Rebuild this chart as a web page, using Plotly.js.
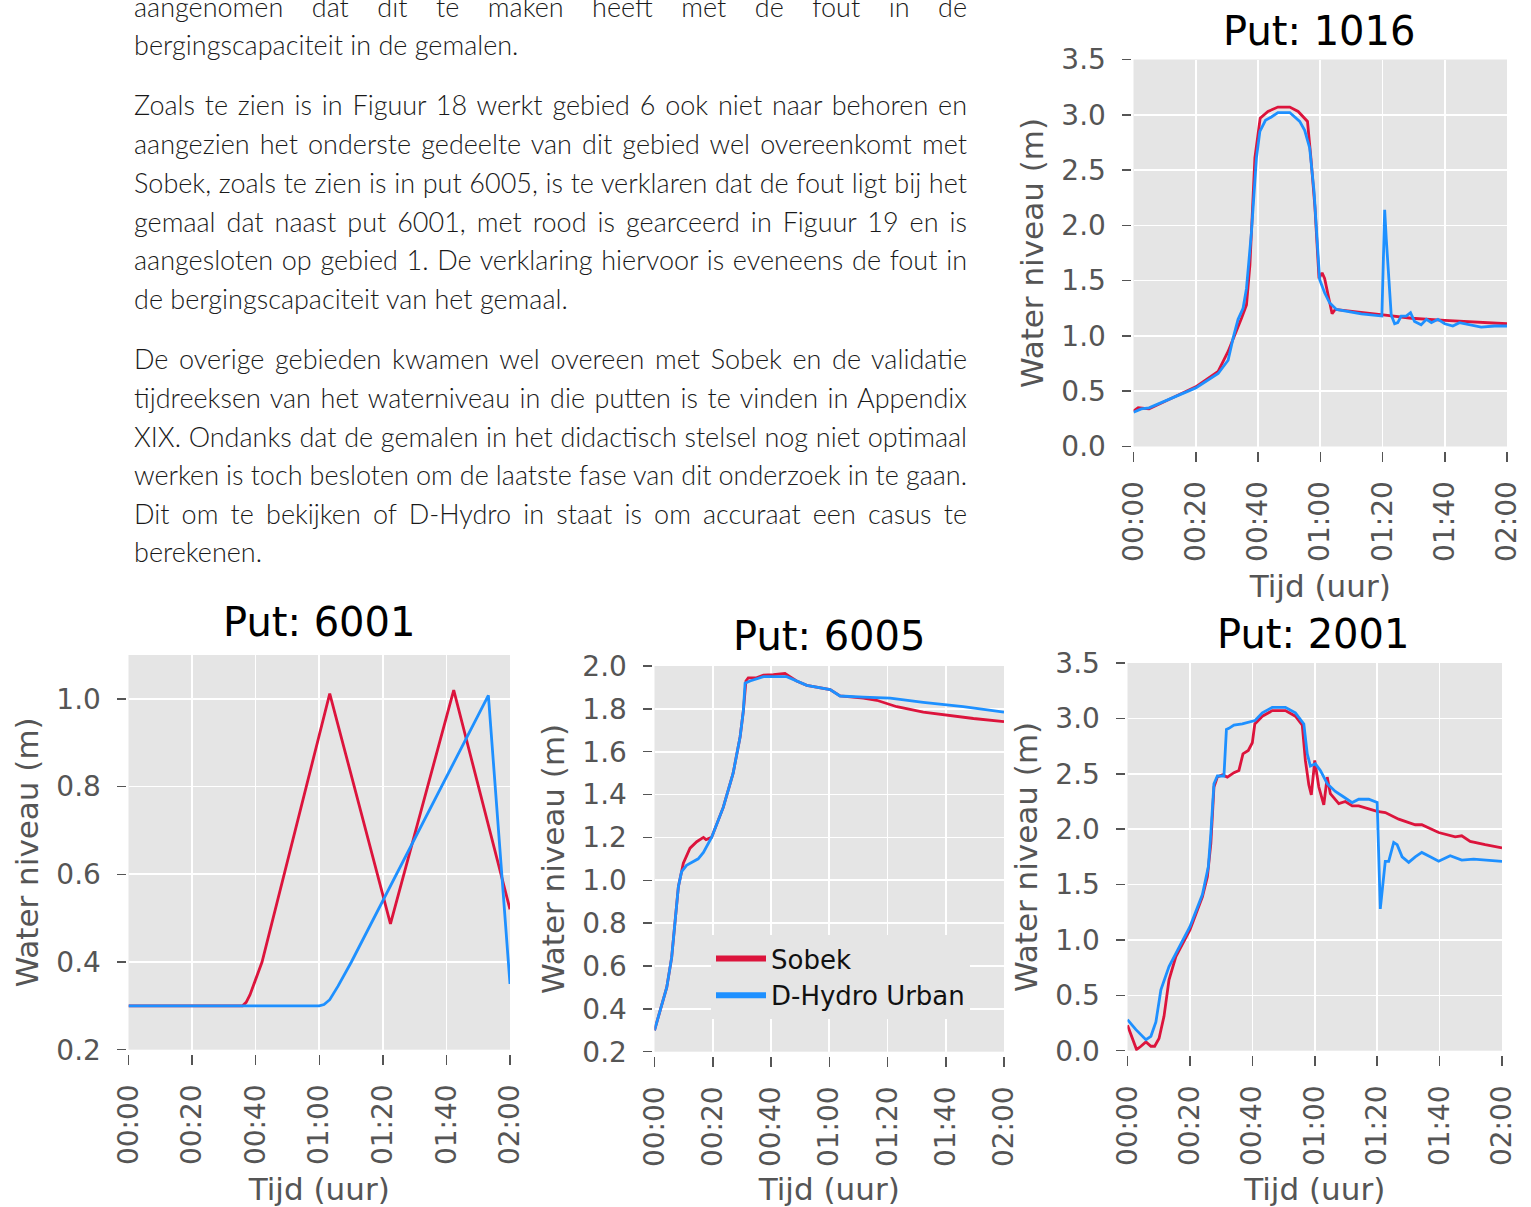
<!DOCTYPE html>
<html>
<head>
<meta charset="utf-8">
<script src="https://cdn.plot.ly/plotly-3.0.1.min.js"></script>
<style>
  html, body { margin: 0; padding: 0; background: #ffffff; }
  #wrap { position: relative; width: 1531px; height: 1207px; overflow: hidden; background: #fff; }
  #chart { position: absolute; left: 0; top: 0; width: 1531px; height: 1207px; }
  #text { position: absolute; left: 134px; top: 0; width: 833px; height: 580px;
          font-family: Lato, 'Open Sans', 'Noto Sans', sans-serif; font-weight: 300;
          font-size: 27px; color: #1a1a1a; }
  .ln { position: absolute; left: 0; height: 38.7px; line-height: 38.7px;
        white-space: nowrap; text-align: left; }
</style>
</head>
<body>
<div id="wrap">
  <div id="chart"></div>
  <div id="text"></div>
</div>
<script>
// ---------------- DATA ----------------
const timeTickVals = [0, 20, 40, 60, 80, 100, 120];
const timeTickText = ['00:00', '00:20', '00:40', '01:00', '01:20', '01:40', '02:00'];
const seriesNames = ['Sobek', 'D-Hydro Urban'];

// Put 1016
const t1016Sobek = [0, 1.5, 5, 20, 27.2, 30.4, 34.7, 36.3, 37.4, 39, 40.7, 43.2, 46.4, 50.2, 52.9, 55.9, 57, 58.3, 59.6, 60.6, 61.4, 62.5, 63.8, 64.8, 73.2, 80.2, 89.3, 100, 120];
const h1016Sobek = [0.32, 0.35, 0.34, 0.54, 0.68, 0.86, 1.16, 1.28, 1.64, 2.61, 2.97, 3.03, 3.07, 3.07, 3.03, 2.94, 2.61, 2.16, 1.52, 1.57, 1.52, 1.37, 1.20, 1.24, 1.21, 1.19, 1.16, 1.14, 1.11];
const t1016DHydro = [0, 2.5, 5, 20, 27.2, 30.4, 32, 33.6, 35.2, 36.3, 37.9, 39.5, 40.6, 42.4, 44.3, 46.4, 50.2, 53.4, 55, 56.6, 58, 59.3, 59.8, 61.4, 63, 65.2, 73.2, 79.8, 80.7, 81.2, 82.8, 83.9, 84.9, 86, 87.6, 89, 90.3, 92.4, 94.1, 95.7, 97.8, 100, 102.6, 104.7, 108.5, 111.7, 116, 120];
const h1016DHydro = [0.31, 0.34, 0.35, 0.53, 0.66, 0.78, 0.98, 1.15, 1.25, 1.43, 1.94, 2.61, 2.85, 2.95, 2.98, 3.02, 3.02, 2.94, 2.86, 2.70, 2.31, 1.70, 1.51, 1.39, 1.30, 1.24, 1.20, 1.18, 2.14, 1.88, 1.19, 1.11, 1.12, 1.18, 1.18, 1.21, 1.13, 1.10, 1.15, 1.12, 1.15, 1.11, 1.09, 1.12, 1.10, 1.08, 1.09, 1.09];

// Put 6001
const t6001Sobek = [0, 35.9, 37, 38.2, 42, 63.3, 82.4, 102.3, 120];
const h6001Sobek = [0.3, 0.3, 0.308, 0.325, 0.40, 1.012, 0.487, 1.02, 0.52];
const t6001DHydro = [0, 60, 61.5, 63.3, 65.9, 70.1, 113.2, 120];
const h6001DHydro = [0.3, 0.3, 0.303, 0.314, 0.345, 0.40, 1.008, 0.35];

// Put 6005
const t6005Sobek = [0, 4.2, 5.9, 7.6, 8.2, 9.9, 12.2, 14.5, 16.8, 17.7, 19.1, 19.6, 23.6, 27, 29.4, 30.5, 31.4, 32.2, 35, 37.4, 40.8, 44.8, 46.5, 48.8, 52.3, 60.3, 63.7, 71.7, 76.3, 83.2, 92.3, 100.3, 109.5, 120];
const h6005Sobek = [0.3, 0.50, 0.64, 0.907, 0.97, 1.08, 1.15, 1.18, 1.20, 1.19, 1.20, 1.20, 1.34, 1.50, 1.67, 1.79, 1.93, 1.945, 1.945, 1.957, 1.96, 1.965, 1.95, 1.93, 1.91, 1.89, 1.86, 1.85, 1.84, 1.81, 1.785, 1.77, 1.755, 1.74];
const t6005DHydro = [0, 4.2, 5.9, 7.6, 8.2, 9.3, 11, 15, 16.8, 19.6, 23.6, 27, 29.4, 30.5, 31.1, 32.8, 37.4, 45.4, 48.8, 52.3, 60.3, 63.7, 71.7, 80.9, 92.3, 106, 120];
const h6005DHydro = [0.3, 0.50, 0.64, 0.907, 0.97, 1.04, 1.07, 1.10, 1.13, 1.20, 1.34, 1.50, 1.67, 1.79, 1.92, 1.93, 1.95, 1.95, 1.93, 1.91, 1.89, 1.86, 1.855, 1.85, 1.83, 1.81, 1.785];

// Put 2001
const t2001Sobek = [0, 1.6, 2.9, 4.3, 5.9, 7.5, 8.7, 10.1, 11.7, 13.3, 15.5, 20, 24, 25.6, 26.7, 27.7, 28.8, 30.4, 32, 34.1, 35.7, 37, 38.7, 40, 40.8, 43.2, 46.4, 50.6, 53.8, 56, 57, 58.1, 58.9, 60, 61.3, 62.9, 64, 65, 67.7, 69.8, 72, 74.1, 80, 82.6, 86.9, 92.2, 94.3, 99.7, 105, 107.1, 109.8, 114.6, 120];
const h2001Sobek = [0.23, 0.10, 0.01, 0.04, 0.08, 0.04, 0.04, 0.11, 0.31, 0.64, 0.85, 1.09, 1.39, 1.57, 1.87, 2.38, 2.47, 2.49, 2.47, 2.51, 2.53, 2.68, 2.71, 2.78, 2.95, 3.02, 3.07, 3.07, 3.02, 2.94, 2.62, 2.40, 2.31, 2.62, 2.38, 2.22, 2.47, 2.32, 2.23, 2.25, 2.21, 2.21, 2.16, 2.15, 2.09, 2.04, 2.04, 1.97, 1.93, 1.94, 1.89, 1.86, 1.83];
const t2001DHydro = [0, 2.7, 5.9, 7.5, 9.1, 10.7, 13.3, 20, 24, 25.9, 26.7, 27.7, 28.8, 30.9, 31.7, 32.5, 34.1, 36.8, 40.8, 43.2, 46.4, 50.6, 53.8, 56.5, 57.6, 58.6, 60.2, 61.8, 64, 66.6, 69.3, 72, 74.1, 77.3, 80, 81, 82.6, 83.7, 85.3, 86.4, 88, 90.1, 92.2, 94.3, 97, 99.7, 103.4, 107.1, 110.9, 114.6, 120];
const h2001DHydro = [0.28, 0.19, 0.10, 0.13, 0.26, 0.55, 0.76, 1.12, 1.41, 1.66, 1.96, 2.41, 2.48, 2.48, 2.90, 2.91, 2.94, 2.95, 2.98, 3.05, 3.10, 3.10, 3.05, 2.95, 2.68, 2.57, 2.59, 2.53, 2.41, 2.34, 2.29, 2.24, 2.27, 2.27, 2.24, 1.28, 1.71, 1.71, 1.88, 1.86, 1.75, 1.70, 1.75, 1.79, 1.75, 1.71, 1.76, 1.72, 1.73, 1.72, 1.71];

// Body text (document page), per line; second value: last line of a paragraph (not justified)
const textLines = [
  ['aangenomen dat dit te maken heeft met de fout in de', false],
  ['bergingscapaciteit in de gemalen.', true],
  ['Zoals te zien is in Figuur 18 werkt gebied 6 ook niet naar behoren en', false],
  ['aangezien het onderste gedeelte van dit gebied wel overeenkomt met', false],
  ['Sobek, zoals te zien is in put 6005, is te verklaren dat de fout ligt bij het', false],
  ['gemaal dat naast put 6001, met rood is gearceerd in Figuur 19 en is', false],
  ['aangesloten op gebied 1. De verklaring hiervoor is eveneens de fout in', false],
  ['de bergingscapaciteit van het gemaal.', true],
  ['De overige gebieden kwamen wel overeen met Sobek en de validatie', false],
  ['tijdreeksen van het waterniveau in die putten is te vinden in Appendix', false],
  ['XIX. Ondanks dat de gemalen in het didactisch stelsel nog niet optimaal', false],
  ['werken is toch besloten om de laatste fase van dit onderzoek in te gaan.', false],
  ['Dit om te bekijken of D-Hydro in staat is om accuraat een casus te', false],
  ['berekenen.', true]
];

// ---------------- LAYOUT CONSTANTS ----------------
const W = 1531, H = 1207;
const TEXT_W = 833;
const lineCenters = [7.5, 46, 106, 145, 184, 222.5, 261, 300, 360, 399, 437.5, 476, 514.5, 553];
const RED = '#DC143C', BLUE = '#1E90FF';
const panels = [
  { n: '',  left: 1133.5, right: 1507, top: 59.5, bottom: 446.5, yr: [0, 3.5], dtick: 0.5, title: 'Put: 1016', tx: 1319, ty: 31,
    s: [t1016Sobek, h1016Sobek], d: [t1016DHydro, h1016DHydro] },
  { n: '2', left: 128.5, right: 510, top: 655, bottom: 1049.7, yr: [0.2, 1.1], dtick: 0.2, title: 'Put: 6001', tx: 318.6, ty: 622,
    s: [t6001Sobek, h6001Sobek], d: [t6001DHydro, h6001DHydro] },
  { n: '3', left: 654.5, right: 1004, top: 666, bottom: 1051.7, yr: [0.2, 2.0], dtick: 0.2, title: 'Put: 6005', tx: 829, ty: 636,
    s: [t6005Sobek, h6005Sobek], d: [t6005DHydro, h6005DHydro] },
  { n: '4', left: 1127.5, right: 1502, top: 663, bottom: 1050.7, yr: [0, 3.5], dtick: 0.5, title: 'Put: 2001', tx: 1313, ty: 634,
    s: [t2001Sobek, h2001Sobek], d: [t2001DHydro, h2001DHydro] }
];

const FONT = 'DejaVu Sans, Verdana, sans-serif';
const traces = [];
const layout = {
  width: W, height: H,
  margin: { l: 0, r: 0, t: 0, b: 0 },
  paper_bgcolor: '#ffffff',
  plot_bgcolor: '#E5E5E5',
  font: { family: FONT, color: '#555555' },
  showlegend: true,
  legend: {
    x: 711 / W, y: 1 - 935 / H, xanchor: 'left', yanchor: 'top',
    bgcolor: '#E5E5E5', borderwidth: 0,
    font: { family: FONT, size: 26, color: '#111111' },
    itemwidth: 50, traceorder: 'normal', tracegroupgap: 0
  },
  annotations: []
};

panels.forEach(p => {
  const xa = 'x' + p.n, ya = 'y' + p.n;
  traces.push({ type: 'scatter', mode: 'lines', x: p.s[0], y: p.s[1], xaxis: xa, yaxis: ya,
                name: seriesNames[0], showlegend: false, line: { color: RED, width: 2.8 } });
  traces.push({ type: 'scatter', mode: 'lines', x: p.d[0], y: p.d[1], xaxis: xa, yaxis: ya,
                name: seriesNames[1], showlegend: false, line: { color: BLUE, width: 2.8 } });

  layout['xaxis' + p.n] = {
    domain: [p.left / W, p.right / W],
    anchor: 'free', position: (H - p.bottom - 4.5) / H,
    range: [0, 120], tickmode: 'array', tickvals: timeTickVals, ticktext: timeTickText,
    tickangle: -90, ticks: 'outside', ticklen: 10, tickwidth: 1.5, tickcolor: '#555555',
    ticklabelstandoff: 8,
    tickfont: { family: FONT, size: 28, color: '#555555' },
    showgrid: true, gridcolor: '#ffffff', gridwidth: 1.6, zeroline: false, showline: false,
    title: { text: 'Tijd (uur)', font: { family: FONT, size: 31, color: '#555555' }, standoff: 14 },
    fixedrange: true
  };
  layout['yaxis' + p.n] = {
    domain: [(H - p.bottom) / H, (H - p.top) / H],
    anchor: 'free', position: (p.left - 3) / W,
    range: p.yr, tick0: p.yr[0], dtick: p.dtick, tickformat: '.1f',
    ticks: 'outside', ticklen: 9, tickwidth: 1.5, tickcolor: '#555555',
    ticklabelstandoff: 10,
    tickfont: { family: FONT, size: 28, color: '#555555' },
    showgrid: true, gridcolor: '#ffffff', gridwidth: 1.6, zeroline: false, showline: false,
    title: { text: 'Water niveau (m)', font: { family: FONT, size: 31, color: '#555555' }, standoff: 7 },
    fixedrange: true
  };
  layout.annotations.push({
    text: p.title, xref: 'paper', yref: 'paper', x: p.tx / W, y: 1 - p.ty / H,
    xanchor: 'center', yanchor: 'middle', showarrow: false,
    font: { family: FONT, size: 40, color: '#000000' }
  });
});

// legend entries (wide sample lines like the reference legend)
traces.push({ type: 'scatter', mode: 'lines', x: [null], y: [null], xaxis: 'x3', yaxis: 'y3',
              name: seriesNames[0], showlegend: true, hoverinfo: 'skip', line: { color: RED, width: 6 } });
traces.push({ type: 'scatter', mode: 'lines', x: [null], y: [null], xaxis: 'x3', yaxis: 'y3',
              name: seriesNames[1], showlegend: true, hoverinfo: 'skip', line: { color: BLUE, width: 6 } });

Plotly.newPlot('chart', traces, layout, { displayModeBar: false, staticPlot: true });

// body text: each line placed explicitly, justified by adjusting word spacing
const tdiv = document.getElementById('text');
textLines.forEach((l, i) => {
  const d = document.createElement('div');
  d.className = 'ln';
  d.style.top = (lineCenters[i] - 20) + 'px';
  d.textContent = l[0];
  tdiv.appendChild(d);
  if (!l[1]) {
    const natural = d.getBoundingClientRect().width;
    const gaps = (l[0].match(/ /g) || []).length;
    if (gaps > 0) d.style.wordSpacing = ((TEXT_W - natural) / gaps) + 'px';
  }
});
</script>
</body>
</html>
